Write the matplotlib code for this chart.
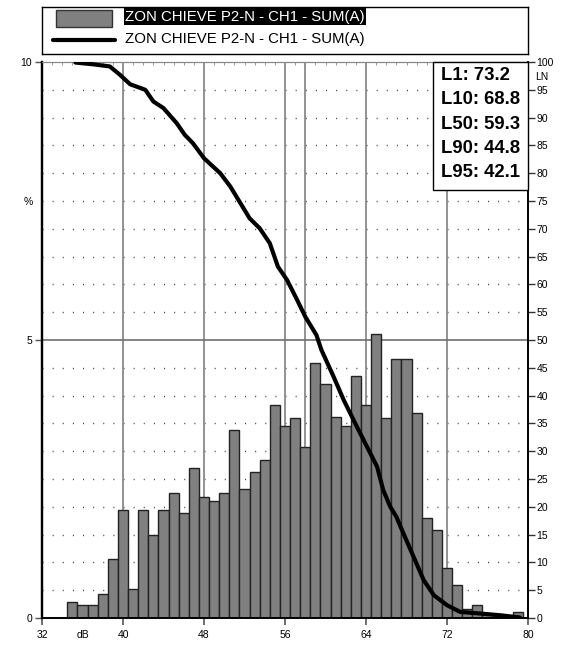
import matplotlib
matplotlib.use("Agg")
import matplotlib.pyplot as plt
from matplotlib.patches import Rectangle
from matplotlib.lines import Line2D
from matplotlib.ticker import MultipleLocator, FixedLocator
import numpy as np

plt.rcParams['font.family'] = ['Liberation Sans', 'DejaVu Sans']
plt.rcParams['lines.scale_dashes'] = False

# ---------------- data ----------------
series_name = "ZON CHIEVE P2-N - CH1 - SUM(A)"
bar_db = list(range(33, 80))
bar_pct = [0.0, 0.0, 0.29, 0.23, 0.23, 0.44, 1.06, 1.95, 0.53, 1.94, 1.50, 1.95,
           2.25, 1.88, 2.70, 2.18, 2.10, 2.25, 3.38, 2.32, 2.62, 2.85, 3.83, 3.45,
           3.60, 3.08, 4.58, 4.20, 3.61, 3.45, 4.35, 3.83, 5.10, 3.60, 4.65, 4.65,
           3.68, 1.80, 1.58, 0.90, 0.60, 0.16, 0.23, 0.08, 0.08, 0.03, 0.10]

curve_db = [35.3, 37.0, 38.7, 39.7, 40.7, 42.2, 43.0, 44.0, 45.3, 46.1, 46.9,
            48.0, 49.6, 50.6, 51.6, 52.5, 53.5, 54.5, 55.3, 56.2, 57.2, 58.0,
            59.1, 59.6, 60.8, 61.8, 63.1, 64.1, 65.1, 65.7, 66.4, 67.0, 67.7,
            68.7, 69.7, 70.7, 72.0, 73.3, 75.3, 77.2, 79.2]
curve_ln = [99.9, 99.6, 99.2, 97.7, 96.0, 95.0, 92.9, 91.7, 89.0, 86.9, 85.4,
            82.7, 80.0, 77.6, 74.6, 71.9, 70.1, 67.4, 63.2, 60.8, 57.2, 54.2,
            50.9, 48.2, 43.4, 39.2, 34.4, 30.8, 27.2, 23.0, 20.0, 18.2, 15.2,
            11.0, 6.8, 4.1, 2.3, 1.1, 0.8, 0.5, 0.1]

stat_labels = ["L1", "L10", "L50", "L90", "L95"]
stat_values = [73.2, 68.8, 59.3, 44.8, 42.1]

x_ticks = [32, 40, 48, 56, 64, 72, 80]
y_ticks_left = [0, 5, 10]
y_ticks_right = list(range(0, 101, 5))
vlines_db = [40, 48, 56, 58, 64, 72]

# ---------------- figure ----------------
W, H = 572, 646
fig = plt.figure(figsize=(W / 100, H / 100), dpi=100)

def fx(px):
    return px / W

def fy(py):
    return 1 - py / H

ax_l, ax_r, ax_t, ax_b = 42, 528, 62, 618
ax = fig.add_axes([fx(ax_l), fy(ax_b), fx(ax_r - ax_l), (ax_b - ax_t) / H])
ax.set_xlim(32, 80)
ax.set_ylim(0, 10)

# dotted grid
for yv in np.arange(0.5, 10, 0.5):
    if abs(yv - 5) < 1e-6:
        continue
    ax.plot([32, 80], [yv, yv], color='#444444', lw=1.0,
            linestyle=(0, (0.75, 6.54)), zorder=1)
# solid gray grid
for xv in vlines_db:
    ax.axvline(xv, color='#808080', lw=1.2, zorder=1.5)
ax.axhline(5, color='#707070', lw=1.2, zorder=1.5)

# bars
ax.bar(bar_db, bar_pct, width=1.0, color='#808080', edgecolor='#222222',
       linewidth=1.0, zorder=2)

# curve on LN axis
ax2 = ax.twinx()
ax2.set_ylim(0, 100)
ax2.plot(curve_db, curve_ln, color='black', lw=3.0, zorder=3,
         solid_joinstyle='round', solid_capstyle='round')

# axes styling
for a in (ax, ax2):
    a.spines['top'].set_color('#888888')
    a.spines['top'].set_linewidth(0.8)
    a.spines['left'].set_linewidth(1.6)
    a.spines['bottom'].set_linewidth(1.2)
    a.spines['right'].set_linewidth(1.2)

ax.set_xticks(x_ticks)
ax.set_xticklabels([str(v) for v in x_ticks], fontsize=7.5)
ax.xaxis.set_minor_locator(MultipleLocator(1))
ax.tick_params(axis='x', which='major', length=5, width=1.2, color='#555555',
               pad=3.5, direction='out')
ax.tick_params(axis='x', which='minor', bottom=False, top=True, length=2,
               width=0.6, color='#888888', direction='in')
ax.set_yticks(y_ticks_left)
ax.set_yticklabels([str(v) for v in y_ticks_left], fontsize=7.5)
ax.tick_params(axis='y', length=5, width=1.0, color='#555555', pad=2)

ax2.set_yticks(y_ticks_right)
ax2.set_yticklabels([str(v) for v in y_ticks_right], fontsize=7.5)
ax2.tick_params(axis='y', length=5, width=1.0, color='#333333', pad=1)

ax.text(36, -17 / 556, "dB", transform=ax.get_xaxis_transform(),
        ha='center', va='center', fontsize=7.5)
ax.text(-14 / 486, (618 - 202) / 556, "%", transform=ax.transAxes,
        ha='center', va='center', fontsize=7.5)
ax2.text(1 + 14 / 486, (618 - 77) / 556, "LN", transform=ax2.transAxes,
         ha='center', va='center', fontsize=7.5)

# statistics box
bx0 = (433 - ax_l) / (ax_r - ax_l)
by0 = (ax_b - 190) / (ax_b - ax_t)
ax2.add_patch(Rectangle((bx0, by0), 1 - bx0, 1 - by0, transform=ax2.transAxes,
                        facecolor='white', edgecolor='black', lw=1.0,
                        zorder=5, clip_on=False))
stat_y = [75, 99, 124, 148, 172]
for lab, val, ypx in zip(stat_labels, stat_values, stat_y):
    ax2.text((441 - ax_l) / (ax_r - ax_l), (ax_b - ypx) / (ax_b - ax_t),
             f"{lab}: {val}", transform=ax2.transAxes, ha='left',
             va='center', fontsize=13.3, fontweight='bold', zorder=6)

# legend box
lg_t, lg_b = 7, 54
lax = fig.add_axes([fx(ax_l), fy(lg_b), fx(ax_r - ax_l), (lg_b - lg_t) / H])
lax.set_xlim(0, ax_r - ax_l)
lax.set_ylim(lg_b - lg_t, 0)
lax.set_xticks([])
lax.set_yticks([])
for s in lax.spines.values():
    s.set_linewidth(1.0)
lax.add_patch(Rectangle((14, 2.5), 56, 17.5, facecolor='#808080',
                        edgecolor='#333333', lw=1.0))
lax.add_line(Line2D([11, 73], [33, 33], color='black', lw=3.0,
                    solid_capstyle='round'))
lax.text(83, 9.5, series_name, ha='left', va='center', fontsize=10.8,
         color='white',
         bbox=dict(boxstyle='square,pad=0.08', facecolor='black',
                   edgecolor='none'))
lax.text(83, 32, series_name, ha='left', va='center', fontsize=10.8,
         color='black')

fig.savefig("out.png", dpi=100)
